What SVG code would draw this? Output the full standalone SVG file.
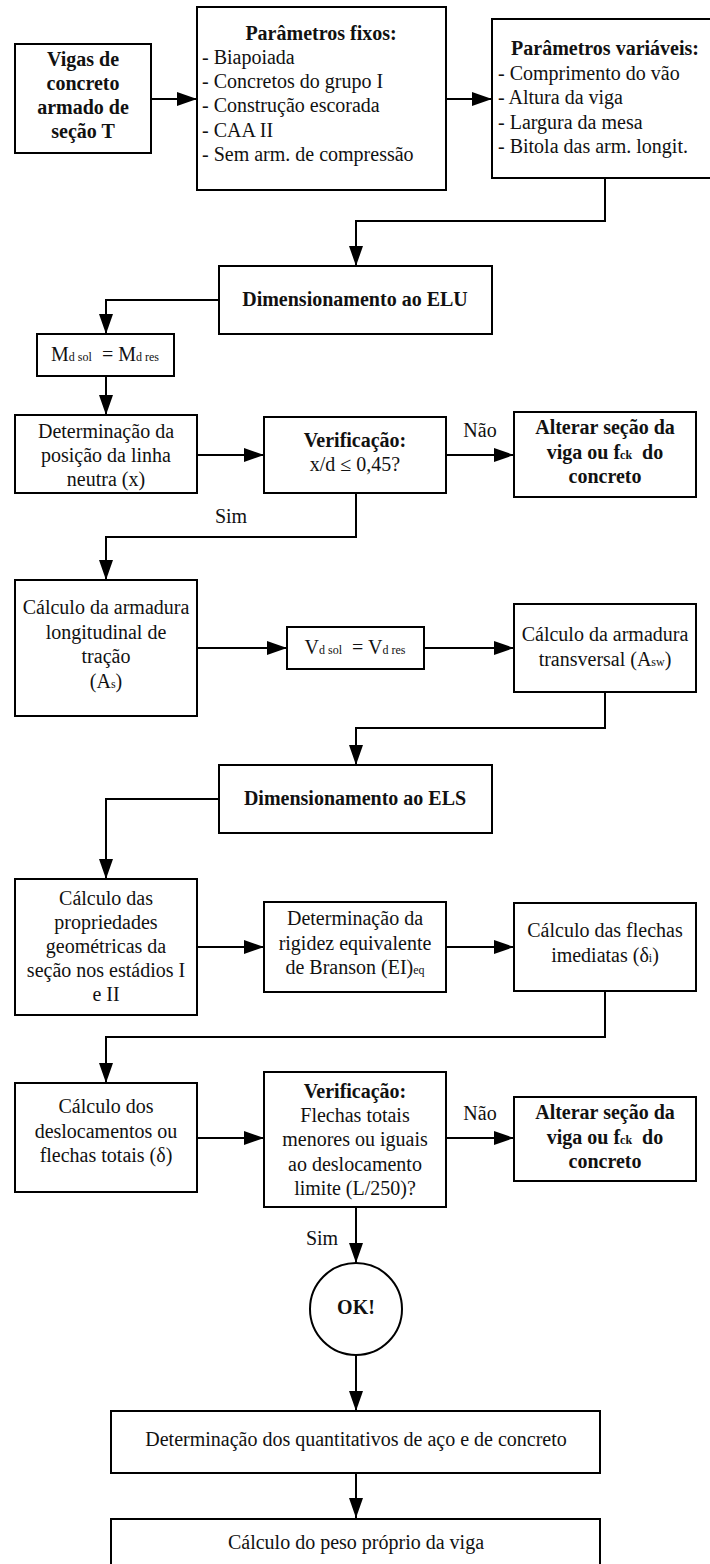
<svg xmlns="http://www.w3.org/2000/svg" width="710" height="1564" viewBox="0 0 710 1564">
  <style>
    .box { fill: #ffffff; stroke: #000000; stroke-width: 2; }
    .t { font-family: "Liberation Serif", "Times New Roman", serif; font-size: 20px; fill: #111111; }
    .c { text-anchor: middle; }
    .b { font-weight: bold; }
    .s { font-size: 12px; }
    .wire { fill: none; stroke: #000000; stroke-width: 2; }
  </style>
  <defs>
    <marker id="arrow" markerUnits="userSpaceOnUse" markerWidth="20" markerHeight="14" refX="20" refY="7" orient="auto">
      <path d="M0,0 L20,7 L0,14 z" fill="#000000"/>
    </marker>
  </defs>
  <rect width="710" height="1564" fill="#ffffff"/>

  <!-- connectors -->
  <g id="connectors">
    <line class="wire" x1="151" y1="99" x2="197" y2="99" marker-end="url(#arrow)"/>
    <line class="wire" x1="446" y1="99" x2="492" y2="99" marker-end="url(#arrow)"/>
    <polyline class="wire" points="605,178 605,221 356,221 356,266" marker-end="url(#arrow)"/>
    <polyline class="wire" points="219,300 106,300 106,334" marker-end="url(#arrow)"/>
    <line class="wire" x1="106" y1="376" x2="106" y2="415" marker-end="url(#arrow)"/>
    <line class="wire" x1="197" y1="455" x2="264" y2="455" marker-end="url(#arrow)"/>
    <line class="wire" x1="446" y1="455" x2="514" y2="455" marker-end="url(#arrow)"/>
    <polyline class="wire" points="356,493 356,537 106,537 106,580" marker-end="url(#arrow)"/>
    <line class="wire" x1="197" y1="648" x2="287" y2="648" marker-end="url(#arrow)"/>
    <line class="wire" x1="424" y1="648" x2="514" y2="648" marker-end="url(#arrow)"/>
    <polyline class="wire" points="605,692 605,728 356,728 356,765" marker-end="url(#arrow)"/>
    <polyline class="wire" points="219,799 106,799 106,879" marker-end="url(#arrow)"/>
    <line class="wire" x1="197" y1="947" x2="264" y2="947" marker-end="url(#arrow)"/>
    <line class="wire" x1="446" y1="947" x2="514" y2="947" marker-end="url(#arrow)"/>
    <polyline class="wire" points="605,991 605,1037 106,1037 106,1083" marker-end="url(#arrow)"/>
    <line class="wire" x1="197" y1="1138" x2="264" y2="1138" marker-end="url(#arrow)"/>
    <line class="wire" x1="446" y1="1138" x2="514" y2="1138" marker-end="url(#arrow)"/>
    <line class="wire" x1="356" y1="1207" x2="356" y2="1263" marker-end="url(#arrow)"/>
    <line class="wire" x1="356" y1="1355" x2="356" y2="1411" marker-end="url(#arrow)"/>
    <line class="wire" x1="356" y1="1473" x2="356" y2="1518" marker-end="url(#arrow)"/>
    <text class="t c" x="480" y="437">Não</text>
    <text class="t c" x="231" y="523">Sim</text>
    <text class="t c" x="480" y="1120">Não</text>
    <text class="t c" x="322" y="1245">Sim</text>
  </g>

  <g id="vigas">
    <rect class="box" x="15" y="44" width="136" height="109"/>
    <text class="t c b" x="83" y="66">Vigas de</text>
    <text class="t c b" x="83" y="90">concreto</text>
    <text class="t c b" x="83" y="114">armado de</text>
    <text class="t c b" x="83" y="138">seção T</text>
  </g>

  <g id="fixos">
    <rect class="box" x="197" y="7" width="249" height="183"/>
    <text class="t c b" x="321" y="40">Parâmetros fixos:</text>
    <text class="t" x="202" y="64">- Biapoiada</text>
    <text class="t" x="202" y="88">- Concretos do grupo I</text>
    <text class="t" x="202" y="112">- Construção escorada</text>
    <text class="t" x="202" y="137">- CAA II</text>
    <text class="t" x="202" y="161">- Sem arm. de compressão</text>
  </g>

  <g id="variaveis">
    <rect class="box" x="492" y="19" width="230" height="159"/>
    <text class="t c b" x="605" y="55">Parâmetros variáveis:</text>
    <text class="t" x="498" y="80">- Comprimento do vão</text>
    <text class="t" x="498" y="104">- Altura da viga</text>
    <text class="t" x="498" y="129">- Largura da mesa</text>
    <text class="t" x="498" y="153">- Bitola das arm. longit.</text>
  </g>

  <g id="elu">
    <rect class="box" x="219" y="266" width="273" height="68"/>
    <text class="t c b" x="355" y="306">Dimensionamento ao ELU</text>
  </g>

  <g id="momento">
    <rect class="box" x="37" y="334" width="137" height="42"/>
    <text class="t c" x="105" y="361">M<tspan class="s">d sol</tspan>&#160; = M<tspan class="s">d res</tspan></text>
  </g>

  <g id="linha-neutra">
    <rect class="box" x="15" y="415" width="182" height="78"/>
    <text class="t c" x="106" y="438">Determinação da</text>
    <text class="t c" x="106" y="462">posição da linha</text>
    <text class="t c" x="106" y="486">neutra (x)</text>
  </g>

  <g id="verif-elu">
    <rect class="box" x="264" y="417" width="182" height="76"/>
    <text class="t c b" x="355" y="447">Verificação:</text>
    <text class="t c" x="355" y="471">x/d ≤ 0,45?</text>
  </g>

  <g id="alterar-elu">
    <rect class="box" x="514" y="412" width="182" height="85"/>
    <text class="t c b" x="605" y="434">Alterar seção da</text>
    <text class="t c b" x="605" y="459">viga ou f<tspan class="s">ck</tspan>&#160; do</text>
    <text class="t c b" x="605" y="483">concreto</text>
  </g>

  <g id="arm-longitudinal">
    <rect class="box" x="15" y="580" width="182" height="136"/>
    <text class="t c" x="106" y="614">Cálculo da armadura</text>
    <text class="t c" x="106" y="639">longitudinal de</text>
    <text class="t c" x="106" y="663">tração</text>
    <text class="t c" x="106" y="688">(A<tspan class="s">s</tspan>)</text>
  </g>

  <g id="cortante">
    <rect class="box" x="287" y="627" width="137" height="42"/>
    <text class="t c" x="355" y="654">V<tspan class="s">d sol</tspan>&#160; = V<tspan class="s">d res</tspan></text>
  </g>

  <g id="arm-transversal">
    <rect class="box" x="514" y="604" width="182" height="88"/>
    <text class="t c" x="605" y="641">Cálculo da armadura</text>
    <text class="t c" x="605" y="666">transversal (A<tspan class="s">sw</tspan>)</text>
  </g>

  <g id="els">
    <rect class="box" x="219" y="765" width="273" height="68"/>
    <text class="t c b" x="355" y="805">Dimensionamento ao ELS</text>
  </g>

  <g id="propriedades">
    <rect class="box" x="15" y="879" width="182" height="136"/>
    <text class="t c" x="106" y="905">Cálculo das</text>
    <text class="t c" x="106" y="929">propriedades</text>
    <text class="t c" x="106" y="953">geométricas da</text>
    <text class="t c" x="106" y="977">seção nos estádios I</text>
    <text class="t c" x="106" y="1001">e II</text>
  </g>

  <g id="branson">
    <rect class="box" x="264" y="902" width="182" height="90"/>
    <text class="t c" x="355" y="925">Determinação da</text>
    <text class="t c" x="355" y="950">rigidez equivalente</text>
    <text class="t c" x="355" y="974">de Branson (EI)<tspan class="s">eq</tspan></text>
  </g>

  <g id="flechas-imediatas">
    <rect class="box" x="514" y="903" width="182" height="88"/>
    <text class="t c" x="605" y="937">Cálculo das flechas</text>
    <text class="t c" x="605" y="962">imediatas (δ<tspan class="s">i</tspan>)</text>
  </g>

  <g id="flechas-totais">
    <rect class="box" x="15" y="1083" width="182" height="109"/>
    <text class="t c" x="106" y="1113">Cálculo dos</text>
    <text class="t c" x="106" y="1138">deslocamentos ou</text>
    <text class="t c" x="106" y="1162">flechas totais (δ)</text>
  </g>

  <g id="verif-els">
    <rect class="box" x="264" y="1072" width="182" height="135"/>
    <text class="t c b" x="355" y="1098">Verificação:</text>
    <text class="t c" x="355" y="1122">Flechas totais</text>
    <text class="t c" x="355" y="1146">menores ou iguais</text>
    <text class="t c" x="355" y="1171">ao deslocamento</text>
    <text class="t c" x="355" y="1195">limite (L/250)?</text>
  </g>

  <g id="alterar-els">
    <rect class="box" x="514" y="1097" width="182" height="84"/>
    <text class="t c b" x="605" y="1119">Alterar seção da</text>
    <text class="t c b" x="605" y="1144">viga ou f<tspan class="s">ck</tspan>&#160; do</text>
    <text class="t c b" x="605" y="1168">concreto</text>
  </g>

  <g id="ok">
    <circle class="box" cx="356" cy="1309" r="46"/>
    <text class="t c b" x="356" y="1314">OK!</text>
  </g>

  <g id="quantitativos">
    <rect class="box" x="111" y="1411" width="489" height="62"/>
    <text class="t c" x="356" y="1446">Determinação dos quantitativos de aço e de concreto</text>
  </g>

  <g id="peso-proprio">
    <rect class="box" x="111" y="1519" width="489" height="60"/>
    <text class="t c" x="356" y="1549">Cálculo do peso próprio da viga</text>
  </g>
</svg>
